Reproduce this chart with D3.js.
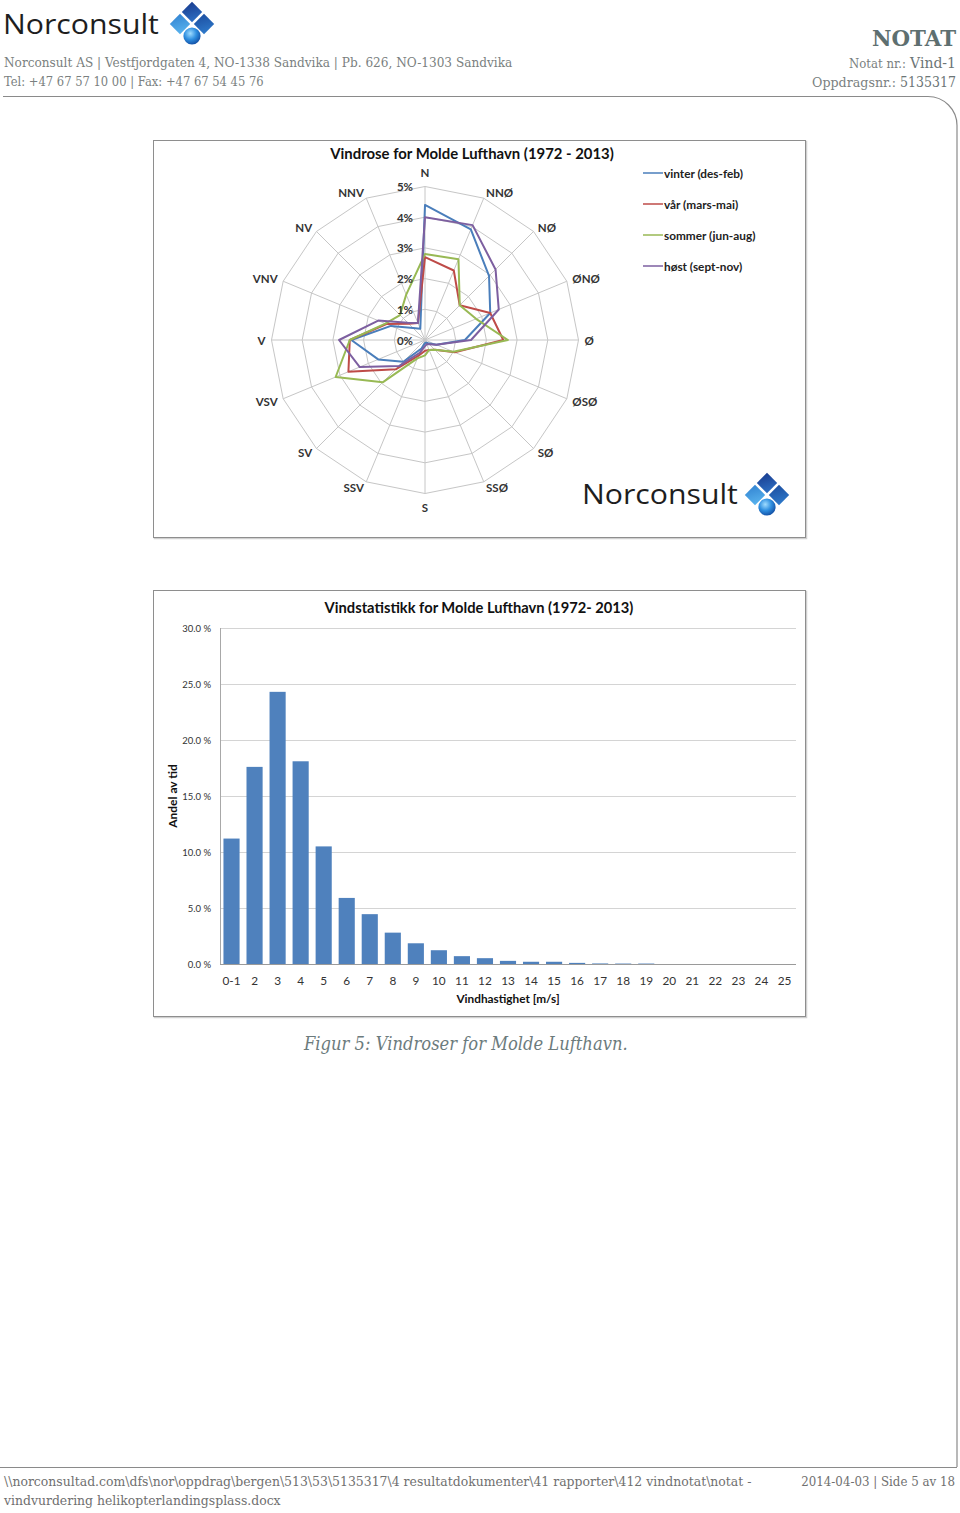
<!DOCTYPE html>
<html><head><meta charset="utf-8">
<script src="https://cdn.jsdelivr.net/npm/d3@7"></script>
<style>body{margin:0;background:#fff}svg{display:block}</style>
</head><body>
<script>
// ---------- DATA ----------
const directions = ["N","NNØ","NØ","ØNØ","Ø","ØSØ","SØ","SSØ","S","SSV","SV","VSV","V","VNV","NV","NNV"];
const seasonNames = ["vinter (des-feb)","vår (mars-mai)","sommer (jun-aug)","høst (sept-nov)"];
const vinter = [4.4, 3.9, 2.95, 2.3, 1.3, 0.4, 0.15, 0.1, 0.1, 0.3, 1.0, 1.65, 2.4, 1.2, 0.55, 0.4];
const vaar   = [2.7, 2.45, 1.6, 2.3, 2.55, 1.05, 0.45, 0.35, 0.35, 0.55, 1.35, 2.7, 2.45, 1.36, 0.75, 0.6];
const sommer = [2.8, 2.85, 1.6, 1.8, 2.7, 1.0, 0.45, 0.35, 0.5, 0.65, 1.95, 3.15, 2.45, 1.4, 1.15, 1.6];
const hoest  = [4.0, 4.05, 3.25, 2.6, 1.5, 0.4, 0.2, 0.15, 0.2, 0.45, 1.2, 2.3, 2.8, 1.65, 0.8, 0.6];
const radialTicks = [0,1,2,3,4,5];
const radialTickLabels = ["0%","1%","2%","3%","4%","5%"];

const speedCategories = ["0-1","2","3","4","5","6","7","8","9","10","11","12","13","14","15","16","17","18","19","20","21","22","23","24","25"];
const speedShare = [11.2, 17.6, 24.3, 18.1, 10.5, 5.9, 4.45, 2.8, 1.85, 1.23, 0.7, 0.52, 0.28, 0.2, 0.2, 0.1, 0.05, 0.04, 0.04, 0, 0, 0, 0, 0, 0];
const yTicks = [0,5,10,15,20,25,30];
const yTickLabels = ["0.0 %","5.0 %","10.0 %","15.0 %","20.0 %","25.0 %","30.0 %"];

// ---------- SETUP ----------
const W = 960, H = 1513;
const svg = d3.select("body").append("svg").attr("width", W).attr("height", H);
const defs = svg.append("defs");
function lg(id, c1, c2){
  const g = defs.append("linearGradient").attr("id", id).attr("x1",0).attr("y1",0).attr("x2",0.3).attr("y2",1);
  g.append("stop").attr("offset","0%").attr("stop-color",c1);
  g.append("stop").attr("offset","100%").attr("stop-color",c2);
}
lg("gTop","#17378a","#2c6cc0");
lg("gLeft","#2f7fcf","#56b0ec");
lg("gRight","#1b4a9c","#2d77c8");
const rg = defs.append("radialGradient").attr("id","gSph").attr("cx","40%").attr("cy","35%").attr("r","65%");
rg.append("stop").attr("offset","0%").attr("stop-color","#9fdcff");
rg.append("stop").attr("offset","55%").attr("stop-color","#2f8fe0");
rg.append("stop").attr("offset","100%").attr("stop-color","#1453a8");

function T(sel, x, y, s, o = {}) {
  const t = sel.append("text").attr("x", x).attr("y", y).text(s)
    .attr("font-family", o.ff || "DejaVu Serif").attr("font-size", o.fs || 12)
    .attr("fill", o.fill || "#7a7f80");
  if (o.anchor) t.attr("text-anchor", o.anchor);
  if (o.fw) t.attr("font-weight", o.fw);
  if (o.fst) t.attr("font-style", o.fst);
  if (o.db) t.attr("dominant-baseline", o.db);
  if (o.len) {
    // fit to the target width with a horizontal scale (keeps the real box honest)
    const w = t.node().getComputedTextLength();
    const k = o.len / w;
    t.attr("x", 0).attr("y", 0).attr("transform", `translate(${x},${y}) scale(${k},1)`);
  }
  return t;
}

function logo(sel, x, baseline, cx, cy){
  T(sel, x, baseline, "Norconsult", {ff:"Open Sans", fs:27, fill:"#1e1e1e", len:156});
  const d = 12, h = 10.2;
  const dia = (px, py, fill) => sel.append("polygon")
    .attr("points", [[px,py-h],[px+h,py],[px,py+h],[px-h,py]].map(p=>p.join(",")).join(" "))
    .attr("fill", fill);
  dia(cx, cy-d, "url(#gTop)");
  dia(cx-d, cy, "url(#gLeft)");
  dia(cx+d, cy, "url(#gRight)");
  sel.append("circle").attr("cx", cx).attr("cy", cy+d).attr("r", 8.6).attr("fill","url(#gSph)");
}

// ---------- PAGE HEADER ----------
const page = svg.append("g");
logo(page, 3, 34, 192, 24);
T(page, 4, 67, "Norconsult AS | Vestfjordgaten 4,  NO-1338 Sandvika | Pb. 626, NO-1303 Sandvika", {fs:12.5, len:509});
T(page, 4, 86, "Tel: +47 67 57 10 00 | Fax: +47 67 54 45 76", {fs:12.5, len:260});
T(page, 956, 46, "NOTAT", {fs:22, fw:"bold", fill:"#5e6f70", anchor:"end", len:84});
T(page, 956, 68, "Vind-1", {fs:15, fill:"#6c7576", anchor:"end", len:46});
T(page, 906, 68, "Notat nr.:", {fs:12, fill:"#7a7f80", anchor:"end", len:57});
T(page, 956, 87, "5135317", {fs:15, fill:"#6c7576", anchor:"end", len:56});
T(page, 896, 87, "Oppdragsnr.:", {fs:12.5, fill:"#7a7f80", anchor:"end", len:84});
page.append("path").attr("d","M3,96.5 H928 A29,29 0 0 1 957,125.5 V1467").attr("fill","none").attr("stroke","#8a8a8a").attr("stroke-width",1.2);
page.append("path").attr("d","M0,1467.5 H957").attr("fill","none").attr("stroke","#8a8a8a").attr("stroke-width",1.2);

// ---------- FOOTER ----------
T(page, 4, 1486, "\\\\norconsultad.com\\dfs\\nor\\oppdrag\\bergen\\513\\53\\5135317\\4 resultatdokumenter\\41 rapporter\\412 vindnotat\\notat -", {fs:12.5, len:748, fill:"#707070"});
T(page, 4, 1505, "vindvurdering helikopterlandingsplass.docx", {fs:12.5, len:277, fill:"#707070"});
T(page, 955, 1486, "2014-04-03 | Side 5 av 18", {fs:12.5, anchor:"end", len:154, fill:"#707070"});

// ---------- CAPTION ----------
T(page, 304, 1050, "Figur 5: Vindroser for Molde Lufthavn.", {fs:18, fst:"italic", fill:"#6c7b7d", len:324});

// ---------- CHART FRAMES ----------
function frame(x, y, w, h){
  svg.append("rect").attr("x", x+1.5).attr("y", y+1.5).attr("width", w).attr("height", h).attr("fill","none").attr("stroke","#d0d0d0").attr("stroke-width",1.5);
  svg.append("rect").attr("x", x+0.5).attr("y", y+0.5).attr("width", w).attr("height", h).attr("fill","#fff").attr("stroke","#8e8e8e").attr("stroke-width",1);
}
frame(153, 140, 652, 397);
frame(153, 590, 652, 426);

// ---------- RADAR CHART ----------
const cx = 425, cy = 340, R = 153.5;
const rad = svg.append("g").attr("transform", `translate(${cx},${cy})`);
const rScale = d3.scaleLinear().domain([0, 5]).range([0, R]);
const aScale = d3.scaleLinear().domain([0, directions.length]).range([0, 2*Math.PI]);
const pt = (i, v) => [rScale(v)*Math.sin(aScale(i)), -rScale(v)*Math.cos(aScale(i))];

radialTicks.filter(t => t > 0).forEach(t => {
  rad.append("polygon").attr("points", directions.map((d,i)=>pt(i,t).join(",")).join(" "))
    .attr("fill","none").attr("stroke","#c6c6c6").attr("stroke-width",1);
});
directions.forEach((d,i) => {
  const p = pt(i, 5);
  rad.append("line").attr("x1",0).attr("y1",0).attr("x2",p[0]).attr("y2",p[1]).attr("stroke","#c6c6c6").attr("stroke-width",1);
});
const series = [
  {name: seasonNames[0], values: vinter, color:"#4a7ebb"},
  {name: seasonNames[1], values: vaar,   color:"#be4b48"},
  {name: seasonNames[2], values: sommer, color:"#98b954"},
  {name: seasonNames[3], values: hoest,  color:"#7d5fa0"}
];
const radial = d3.lineRadial().angle((d,i)=>aScale(i)).radius(d=>rScale(d)).curve(d3.curveLinearClosed);
series.forEach(s => {
  rad.append("path").attr("d", radial(s.values)).attr("fill","none").attr("stroke", s.color).attr("stroke-width",2).attr("stroke-linejoin","round");
});
radialTicks.forEach((t,i) => {
  T(rad, -12, -rScale(t), radialTickLabels[i], {ff:"Lato", fs:11.5, fw:"bold", fill:"#333", anchor:"end", db:"central"});
});
directions.forEach((d,i) => {
  const a = aScale(i), s = Math.sin(a), c = Math.cos(a);
  const ex = (R+6)*s, ey = -(R+6)*c;
  const vertical = Math.abs(s) < 0.1;
  const anchor = vertical ? "middle" : (s > 0 ? "start" : "end");
  const yy = ey + (vertical ? (c > 0 ? -8 : 8) : 0);
  T(rad, ex, yy, d, {ff:"Lato", fs:11.5, fw:"bold", fill:"#333", anchor, db:"central"});
});
T(svg, 472, 159, "Vindrose for Molde Lufthavn (1972 - 2013)", {ff:"Lato", fs:14.5, fw:"bold", fill:"#111", anchor:"middle", len:284});
series.forEach((s,i) => {
  const y = 173 + i*31;
  svg.append("line").attr("x1",643).attr("x2",663).attr("y1",y).attr("y2",y).attr("stroke", s.color).attr("stroke-width",1.5);
  T(svg, 664, y, s.name, {ff:"Lato", fs:11.8, fw:"bold", fill:"#222", db:"central"});
});
logo(svg, 582, 504, 767, 495);

// ---------- BAR CHART ----------
const x = d3.scaleBand().domain(speedCategories).range([220, 796]).paddingInner(0.3).paddingOuter(0.15);
const y = d3.scaleLinear().domain([0, 30]).range([964, 628]);
const bar = svg.append("g");
yTicks.forEach(t => {
  bar.append("line").attr("x1",220).attr("x2",796).attr("y1",Math.round(y(t))+0.5).attr("y2",Math.round(y(t))+0.5)
    .attr("stroke", t===0 ? "#9a9a9a" : "#d4d4d4").attr("stroke-width",1);
});
bar.append("line").attr("x1",220.5).attr("x2",220.5).attr("y1",y(30)).attr("y2",y(0)).attr("stroke","#a8a8a8");
yTicks.forEach((t,i) => {
  T(bar, 211, y(t), yTickLabels[i], {ff:"Lato", fs:9.5, fill:"#333", anchor:"end", db:"central"});
});
bar.selectAll("rect.b").data(speedShare).join("rect").attr("class","b")
  .attr("x", (d,i)=>x(speedCategories[i])).attr("width", x.bandwidth())
  .attr("y", d=>y(d)).attr("height", d=>y(0)-y(d)).attr("fill","#4f81bd");
speedCategories.forEach(c => {
  T(bar, x(c)+x.bandwidth()/2, 980, c, {ff:"Lato", fs:11.8, fill:"#333", anchor:"middle", db:"central"});
});
T(bar, 508, 998, "Vindhastighet [m/s]", {ff:"Lato", fs:11.8, fw:"bold", fill:"#111", anchor:"middle", db:"central"});
T(bar, 0, 0, "Andel av tid", {ff:"Lato", fs:12, fw:"bold", fill:"#111", anchor:"middle", db:"central"})
  .attr("transform","translate(172,796) rotate(-90)");
T(bar, 479, 613, "Vindstatistikk for Molde Lufthavn (1972- 2013)", {ff:"Lato", fs:14.5, fw:"bold", fill:"#111", anchor:"middle", len:309});
</script>
</body></html>
